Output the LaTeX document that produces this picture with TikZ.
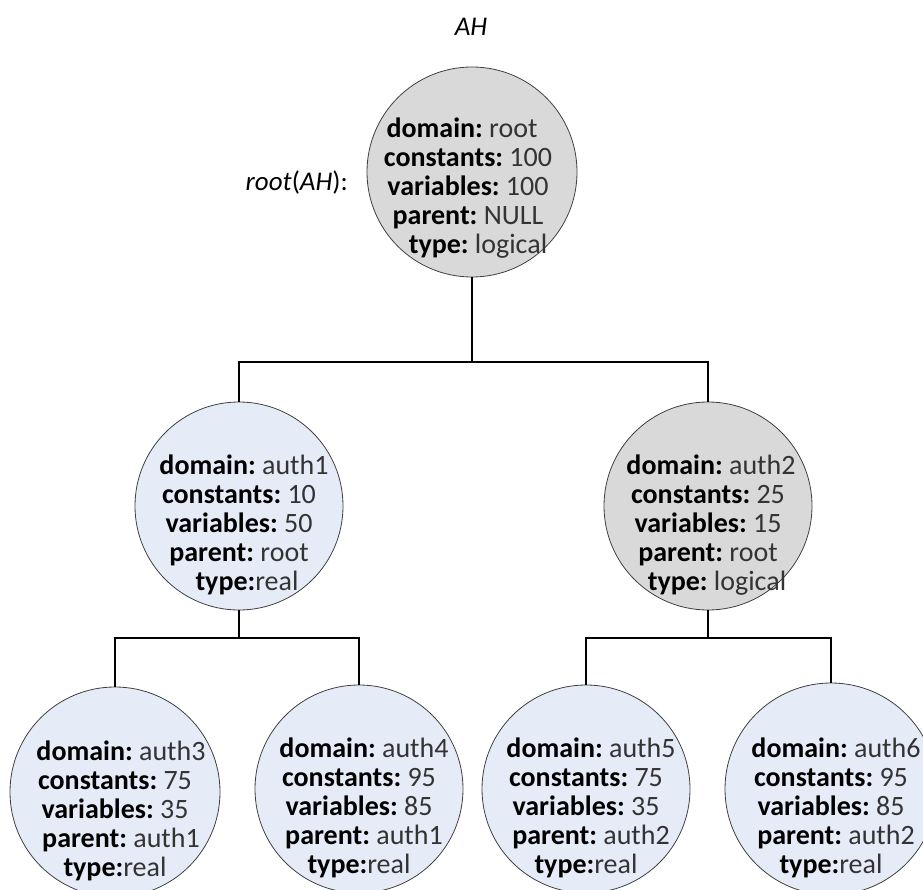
\documentclass[tikz,border=0pt]{standalone}
\usepackage{fontspec}
\setmainfont{Carlito}
\definecolor{nodegray}{HTML}{D9D9D9}
\definecolor{nodeblue}{HTML}{E6ECF7}
\definecolor{valcol}{HTML}{333333}
\newcommand{\kv}[2]{\textbf{#1:}\ \textcolor{valcol}{#2}}
\newcommand{\kvn}[2]{\textbf{#1:}\textcolor{valcol}{#2}}
\begin{document}
\begin{tikzpicture}[x=1pt,y=-1pt,
  circ/.style={circle,draw=black!75,line width=0.8pt,inner sep=0pt,minimum size=#1},
  circ/.default=208pt,
  txt/.style={align=center,inner sep=0pt,font=\fontsize{28}{29}\selectfont},
  lab/.style={inner sep=0pt,font=\fontsize{27}{30}\selectfont\itshape},
  conn/.style={line width=2pt,black}]
\useasboundingbox (0,0) rectangle (923,890);
\clip (0,0) rectangle (923,890);
% title
\node[lab] (title) at (471,27) {AH};
% circles
\node[circ=210pt,fill=nodegray] (root) at (472,172) {};
\node[circ,fill=nodeblue] (auth1) at (239,506) {};
\node[circ,fill=nodegray] (auth2) at (708,506) {};
\node[circ=210pt,fill=nodeblue] (auth3) at (115,792) {};
\node[circ,fill=nodeblue] (auth4) at (359,789) {};
\node[circ,fill=nodeblue] (auth5) at (586,789) {};
\node[circ=212pt,fill=nodeblue] (auth6) at (831,789) {};
% root label
\node[lab,font=\fontsize{27}{30}\selectfont,anchor=east] (rootlab) at (348,182) {\textit{root}(\textit{AH}):};
% texts
\node[txt] (t0) at ([yshift=-16pt,xshift=-4pt]root.center) {\hspace*{-12pt}\kv{domain}{root}\\ \kv{constants}{100}\\ \kv{variables}{100}\\ \kv{parent}{NULL}\\ \hspace*{20pt}\kv{type}{logical}};
\node[txt] (t1) at ([yshift=-19pt]auth1.center) {\hspace*{10pt}\kv{domain}{auth1}\\ \kv{constants}{10}\\ \kv{variables}{50}\\ \kv{parent}{root}\\ \hspace*{16pt}\kvn{type}{real}};
\node[txt] (t2) at ([yshift=-19pt]auth2.center) {\hspace*{6pt}\kv{domain}{auth2}\\ \kv{constants}{25}\\ \kv{variables}{15}\\ \kv{parent}{root}\\ \hspace*{18pt}\kv{type}{logical}};
\node[txt] (t3) at ([yshift=-19pt]auth3.center) {\hspace*{12pt}\kv{domain}{auth3}\\ \kv{constants}{75}\\ \kv{variables}{35}\\ \hspace*{12pt}\kv{parent}{auth1}\\ \kvn{type}{real}};
\node[txt] (t4) at ([yshift=-19pt]auth4.center) {\hspace*{10pt}\kv{domain}{auth4}\\ \kv{constants}{95}\\ \kv{variables}{85}\\ \hspace*{10pt}\kv{parent}{auth1}\\ \kvn{type}{real}};
\node[txt] (t5) at ([yshift=-19pt]auth5.center) {\hspace*{10pt}\kv{domain}{auth5}\\ \kv{constants}{75}\\ \kv{variables}{35}\\ \hspace*{10pt}\kv{parent}{auth2}\\ \kvn{type}{real}};
\node[txt] (t6) at ([yshift=-19pt]auth6.center) {\hspace*{10pt}\kv{domain}{auth6}\\ \kv{constants}{95}\\ \kv{variables}{85}\\ \hspace*{10pt}\kv{parent}{auth2}\\ \kvn{type}{real}};
% connectors
\coordinate (j0) at (472,362);
\coordinate (j1) at (239,638);
\coordinate (j2) at (708,638);
\draw[conn] (root.south) -- (j0);
\draw[conn] (auth1.north) |- (j0) -| (auth2.north);
\draw[conn] (auth1.south) -- (j1);
\draw[conn] (auth3.north) |- (j1) -| (auth4.north);
\draw[conn] (auth2.south) -- (j2);
\draw[conn] (auth5.north) |- (j2) -| (auth6.north);
\end{tikzpicture}
\end{document}
